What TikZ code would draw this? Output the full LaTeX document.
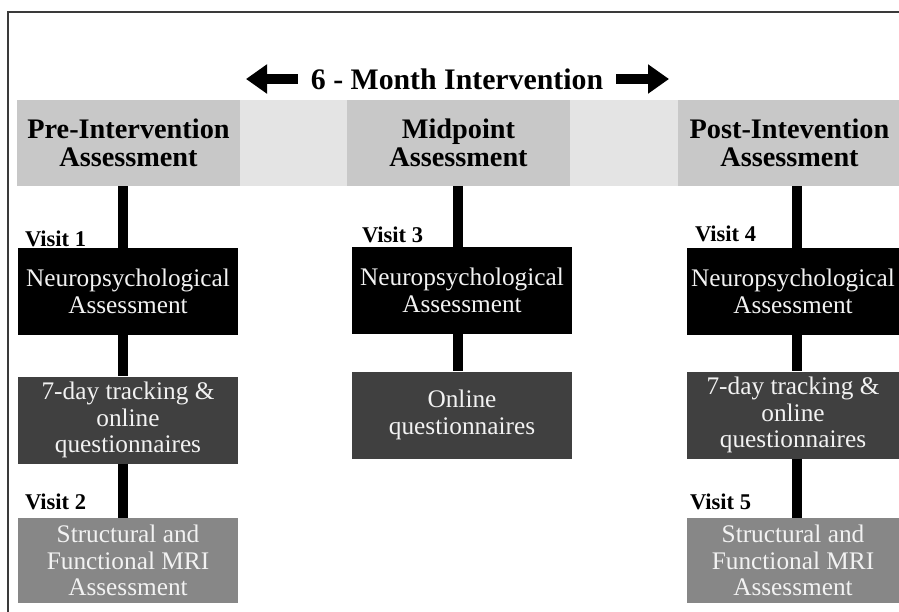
\documentclass[tikz,border=0pt]{standalone}
\usepackage{fontspec}
\setmainfont{Liberation Serif}
\usetikzlibrary{positioning, arrows.meta}
\definecolor{bandgray}{HTML}{E4E4E4}
\definecolor{headgray}{HTML}{C8C8C8}
\definecolor{trackgray}{HTML}{404040}
\definecolor{mrigray}{HTML}{878787}
\definecolor{framegray}{HTML}{3A3A3A}
\tikzstyle{block}=[rectangle,inner sep=0pt,minimum width=220pt,minimum height=87pt,align=center,text=white!95!black,font=\fontsize{25.3}{26.5}\selectfont]
\tikzstyle{neuro}=[block,fill=black]
\tikzstyle{track}=[block,fill=trackgray]
\tikzstyle{mri}=[block,fill=mrigray,minimum height=85pt]
\tikzstyle{head}=[rectangle,inner sep=0pt,fill=headgray,minimum width=223pt,minimum height=86pt,align=center,font=\bfseries\fontsize{28.3}{28.5}\selectfont]
\tikzstyle{visit}=[anchor=base west,inner sep=0pt,font=\bfseries\fontsize{22.5}{23}\selectfont]
\tikzstyle{bar}=[line width=10pt]
\tikzstyle{bigarrow}=[line width=10pt,-{Triangle[length=21pt,width=28pt]}]

\begin{document}
\begin{tikzpicture}[x=1pt,y=-1pt]
            \clip (0,0) rectangle (899,611);
            \fill[white] (0,0) rectangle (899,611);
            \draw[framegray, line width=2pt] (8,12) rectangle (910,620);
            % timeline band
            \fill[bandgray] (17,100) rectangle (899,186);
            \node[head] (pre) at (128.5,143) {Pre-Intervention\\Assessment};
            \node[head] (mid) at (458.5,143) {Midpoint\\Assessment};
            \node[head] (post) at (789.5,143) {Post-Intevention\\Assessment};
            \node[inner ysep=0pt, inner xsep=13pt, font=\bfseries\fontsize{29.8}{30}\selectfont] (title) at (457,79) {6 - Month Intervention};
            \coordinate (lend) at (246,79);
            \coordinate (rend) at (669,79);
            \draw[bigarrow] (title.west) -- (lend);
            \draw[bigarrow] (title.east) -- (rend);
            % pre-intervention
            \node[neuro] (neuroA) at (128,291.5) {Neuropsychological\\Assessment};
            \node[track] (trackA) at (128,420) {7-day tracking \&\\online\\questionnaires};
            \node[mri] (mriA) at (128,560.5) {Structural and\\Functional MRI\\Assessment};
            \node[visit] (visitA) at ([shift={(7pt,1pt)}]neuroA.north west) {Visit 1};
            \node[visit] (visitB) at ([shift={(7pt,8pt)}]mriA.north west) {Visit 2};
            % midpoint
            \node[neuro] (neuroB) at (462,290.5) {Neuropsychological\\Assessment};
            \node[track] (onlineB) at (462,415) {Online\\questionnaires};
            \node[visit] (visitC) at ([shift={(10pt,4pt)}]neuroB.north west) {Visit 3};
            % post-intervention
            \node[neuro, minimum width=212pt] (neuroC) at (793,291.5) {Neuropsychological\\Assessment};
            \node[track, minimum width=212pt] (trackC) at (793,415) {7-day tracking \&\\online\\questionnaires};
            \node[mri, minimum width=212pt] (mriC) at (793,560.5) {Structural and\\Functional MRI\\Assessment};
            \node[visit] (visitD) at ([shift={(8pt,6pt)}]neuroC.north west) {Visit 4};
            \node[visit] (visitE) at ([shift={(3pt,8pt)}]mriC.north west) {Visit 5};
            % bars
            \coordinate (colA) at (123,0);
            \coordinate (colB) at (458,0);
            \coordinate (colC) at (797,0);
            \draw[bar] (pre.south -| colA) -- (neuroA.north -| colA);
            \draw[bar] (neuroA.south -| colA) -- (trackA.north -| colA);
            \draw[bar] (trackA.south -| colA) -- (mriA.north -| colA);
            \draw[bar] (mid.south -| colB) -- (neuroB.north -| colB);
            \draw[bar] (neuroB.south -| colB) -- (onlineB.north -| colB);
            \draw[bar] (post.south -| colC) -- (neuroC.north -| colC);
            \draw[bar] (neuroC.south -| colC) -- (trackC.north -| colC);
            \draw[bar] (trackC.south -| colC) -- (mriC.north -| colC);
        \end{tikzpicture}
\end{document}
